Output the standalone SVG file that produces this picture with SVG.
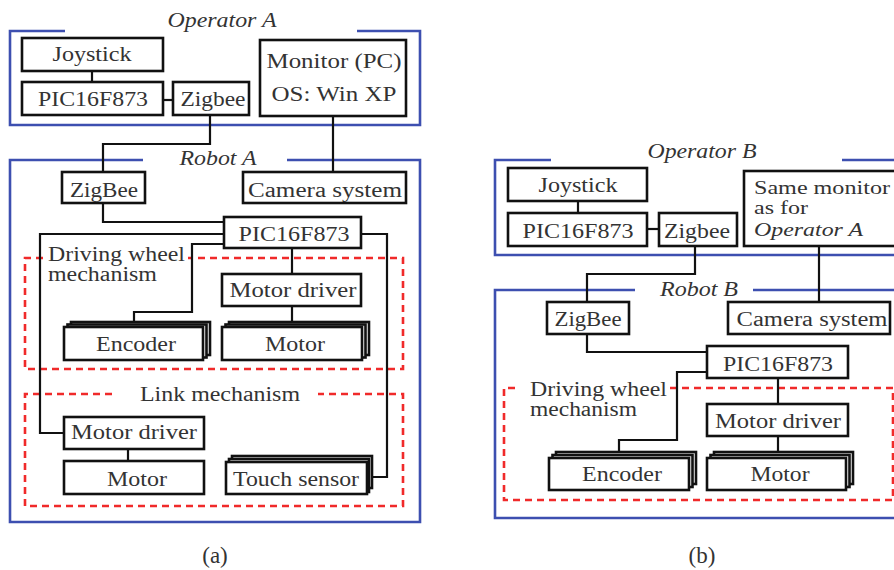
<svg xmlns="http://www.w3.org/2000/svg" width="894" height="570" viewBox="0 0 894 570" font-family="'Liberation Serif', 'DejaVu Serif', serif">
<style>
.box{fill:#fff;stroke:#111;stroke-width:2.6}
.conn{fill:none;stroke:#111;stroke-width:2.2}
.frame{fill:none;stroke:#3d4fb0;stroke-width:2.6}
.dash{fill:none;stroke:#f02a2a;stroke-width:2.6;stroke-dasharray:7 5}
text{font-family:"Liberation Serif","DejaVu Serif",serif;font-size:20px;fill:#333}
.c{text-anchor:middle}
.i{font-style:italic}
.cap{font-size:23px}
.sm{font-size:19px}
</style>
<rect width="894" height="570" fill="#fff"/>

<!-- frames -->
<g id="frames">
<path class="frame" d="M65,31 H10 V125 H420 V31 H357"/>
<path class="frame" d="M143,160 H10 V522 H420 V160 H287"/>
<path class="frame" d="M551,160 H495 V255 H900 M842,160 H900"/>
<path class="frame" d="M635,290 H495 V518 H900 M753,290 H900"/>
<path class="dash" d="M43,258 H25 V369 H403 V258 H188"/>
<path class="dash" d="M112,394 H25 V506 H403 V394 H318"/>
<path class="dash" d="M515,388 H504 V500 H893 V388 H668"/>
</g>

<g id="labels">
<text class="i c" x="222" y="27" textLength="109" lengthAdjust="spacingAndGlyphs">Operator A</text>
<text class="i c" x="218" y="165" textLength="77" lengthAdjust="spacingAndGlyphs">Robot A</text>
<text x="48" y="261" textLength="137" lengthAdjust="spacingAndGlyphs">Driving wheel</text>
<text x="48" y="281" textLength="109" lengthAdjust="spacingAndGlyphs">mechanism</text>
<text class="c" x="220" y="401" textLength="160" lengthAdjust="spacingAndGlyphs">Link mechanism</text>
<text class="c cap" x="215" y="563">(a)</text>
<text class="i c" x="702" y="158" textLength="109" lengthAdjust="spacingAndGlyphs">Operator B</text>
<text class="i c" x="699" y="296" textLength="78" lengthAdjust="spacingAndGlyphs">Robot B</text>
<text x="530" y="396" textLength="137" lengthAdjust="spacingAndGlyphs">Driving wheel</text>
<text x="530" y="416" textLength="107" lengthAdjust="spacingAndGlyphs">mechanism</text>
<text class="c cap" x="702" y="563">(b)</text>
</g>

<!-- connectors -->
<g id="connectors">
<path class="conn" d="M92,71 V82"/>
<path class="conn" d="M163,100 H173"/>
<path class="conn" d="M210,115 V144 H103 V172"/>
<path class="conn" d="M333,116 V172"/>
<path class="conn" d="M103,203 V222 H224"/>
<path class="conn" d="M224,234 H40 V433 H64"/>
<path class="conn" d="M224,244 H192 V312 H134 V322"/>
<path class="conn" d="M361,234 H387 V477 H372"/>
<path class="conn" d="M292,248 V274"/>
<path class="conn" d="M292,306 V322"/>
<path class="conn" d="M128,449 V461"/>
<path class="conn" d="M578,201 V213"/>
<path class="conn" d="M647,229 H659"/>
<path class="conn" d="M695,246 V274 H587 V302"/>
<path class="conn" d="M819,246 V302"/>
<path class="conn" d="M587,334 V352 H707"/>
<path class="conn" d="M707,372 H677 V440 H619 V452"/>
<path class="conn" d="M778,378 V404"/>
<path class="conn" d="M778,436 V452"/>
</g>

<!-- Panel a nodes -->
<g id="joystickA"><rect class="box" x="22" y="38" width="141" height="33"/><text class="c" x="92" y="61" textLength="79" lengthAdjust="spacingAndGlyphs">Joystick</text></g>
<g id="picOpA"><rect class="box" x="22" y="82" width="141" height="33"/><text class="c" x="93" y="106" textLength="110" lengthAdjust="spacingAndGlyphs">PIC16F873</text></g>
<g id="zigbeeOpA"><rect class="box" x="173" y="82" width="76" height="33"/><text class="c" x="213" y="106" textLength="65" lengthAdjust="spacingAndGlyphs">Zigbee</text></g>
<g id="monitorA"><rect class="box" x="260" y="40" width="146" height="76"/><text class="c" x="334" y="68" textLength="135" lengthAdjust="spacingAndGlyphs">Monitor (PC)</text><text class="c" x="334" y="101" textLength="125" lengthAdjust="spacingAndGlyphs">OS: Win XP</text></g>
<g id="zigbeeRobA"><rect class="box" x="62" y="172" width="83" height="31"/><text class="c" x="104" y="197" textLength="68" lengthAdjust="spacingAndGlyphs">ZigBee</text></g>
<g id="cameraA"><rect class="box" x="243" y="172" width="163" height="31"/><text class="c" x="325" y="197" textLength="154" lengthAdjust="spacingAndGlyphs">Camera system</text></g>
<g id="picRobA"><rect class="box" x="224" y="217" width="137" height="31"/><text class="c" x="294" y="241" textLength="111" lengthAdjust="spacingAndGlyphs">PIC16F873</text></g>
<g id="motorDriverA"><rect class="box" x="222" y="274" width="139" height="32"/><text class="c" x="293" y="297" textLength="127" lengthAdjust="spacingAndGlyphs">Motor driver</text></g>
<g id="encoderA"><rect class="box" x="71" y="322" width="139" height="33"/><rect class="box" x="67.5" y="324.5" width="139" height="33"/><rect class="box" x="64" y="327" width="139" height="33"/><text class="c" x="136" y="351" textLength="80" lengthAdjust="spacingAndGlyphs">Encoder</text></g>
<g id="motorA"><rect class="box" x="229" y="322" width="140" height="33"/><rect class="box" x="225.5" y="324.5" width="140" height="33"/><rect class="box" x="222" y="327" width="140" height="33"/><text class="c" x="295" y="351" textLength="60" lengthAdjust="spacingAndGlyphs">Motor</text></g>
<g id="linkMotorDriverA"><rect class="box" x="64" y="417" width="140" height="32"/><text class="c" x="134" y="439" textLength="126" lengthAdjust="spacingAndGlyphs">Motor driver</text></g>
<g id="linkMotorA"><rect class="box" x="64" y="461" width="140" height="33"/><text class="c" x="137" y="486" textLength="60" lengthAdjust="spacingAndGlyphs">Motor</text></g>
<g id="touchSensorA"><rect class="box" x="232" y="456" width="140" height="32"/><rect class="box" x="229" y="459" width="140" height="33"/><rect class="box" x="226" y="462" width="141" height="32"/><text class="c" x="296" y="486" textLength="126" lengthAdjust="spacingAndGlyphs">Touch sensor</text></g>

<!-- Panel b nodes -->
<g id="joystickB"><rect class="box" x="508" y="168" width="139" height="33"/><text class="c" x="578" y="192" textLength="79" lengthAdjust="spacingAndGlyphs">Joystick</text></g>
<g id="picOpB"><rect class="box" x="508" y="213" width="139" height="33"/><text class="c" x="578" y="238" textLength="111" lengthAdjust="spacingAndGlyphs">PIC16F873</text></g>
<g id="zigbeeOpB"><rect class="box" x="659" y="213" width="78" height="33"/><text class="c" x="697" y="238" textLength="66" lengthAdjust="spacingAndGlyphs">Zigbee</text></g>
<g id="monitorB"><rect class="box" x="744" y="171" width="160" height="75"/><text class="sm" x="754" y="194" textLength="136" lengthAdjust="spacingAndGlyphs">Same monitor</text><text class="sm" x="754" y="214" textLength="54" lengthAdjust="spacingAndGlyphs">as for</text><text class="i sm" x="754" y="236" textLength="109" lengthAdjust="spacingAndGlyphs">Operator A</text></g>
<g id="zigbeeRobB"><rect class="box" x="547" y="302" width="82" height="32"/><text class="c" x="588" y="326" textLength="67" lengthAdjust="spacingAndGlyphs">ZigBee</text></g>
<g id="cameraB"><rect class="box" x="728" y="302" width="162" height="32"/><text class="c" x="812" y="326" textLength="151" lengthAdjust="spacingAndGlyphs">Camera system</text></g>
<g id="picRobB"><rect class="box" x="707" y="346" width="141" height="32"/><text class="c" x="778" y="371" textLength="110" lengthAdjust="spacingAndGlyphs">PIC16F873</text></g>
<g id="motorDriverB"><rect class="box" x="707" y="404" width="141" height="32"/><text class="c" x="778" y="428" textLength="126" lengthAdjust="spacingAndGlyphs">Motor driver</text></g>
<g id="encoderB"><rect class="box" x="556" y="452" width="140" height="32"/><rect class="box" x="552.5" y="455" width="140" height="32"/><rect class="box" x="549" y="458" width="140" height="32"/><text class="c" x="622" y="481" textLength="80" lengthAdjust="spacingAndGlyphs">Encoder</text></g>
<g id="motorB"><rect class="box" x="714" y="452" width="139" height="32"/><rect class="box" x="710.5" y="455" width="139" height="32"/><rect class="box" x="707" y="458" width="139" height="32"/><text class="c" x="780" y="481" textLength="59" lengthAdjust="spacingAndGlyphs">Motor</text></g>
</svg>
